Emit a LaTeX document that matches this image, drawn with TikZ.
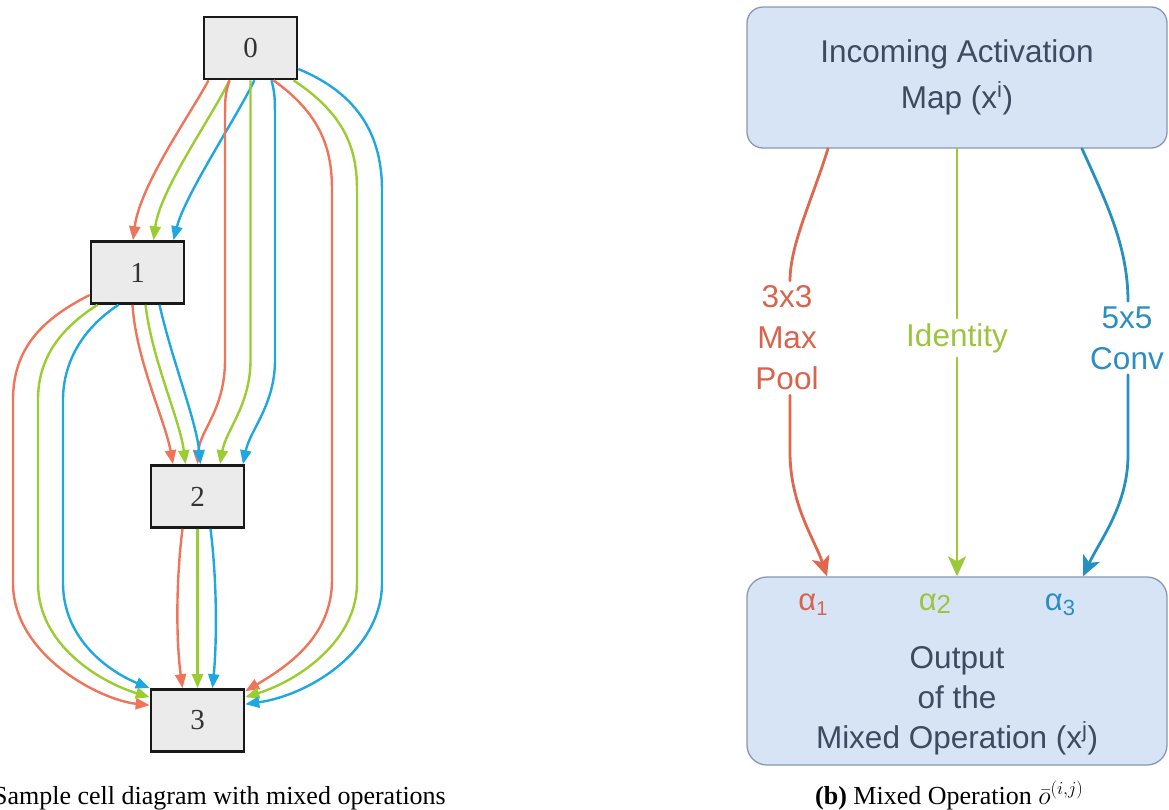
\RequirePackage{fix-cm}
\documentclass[tikz,border=0pt]{standalone}
\usepackage{fontspec}
\setmainfont{Liberation Serif}
\newfontfamily\diagsans{Liberation Sans}
\usetikzlibrary{arrows.meta}

\definecolor{cellgray}{HTML}{EBEBEB}
\definecolor{opred}{HTML}{F07459}
\definecolor{opgreen}{HTML}{9ACD32}
\definecolor{opblue}{HTML}{1FA7E0}
\definecolor{mixred}{HTML}{E0664D}
\definecolor{mixgreen}{HTML}{9CC93A}
\definecolor{mixblue}{HTML}{2690C0}
\definecolor{txtred}{HTML}{D8644B}
\definecolor{txtgreen}{HTML}{9CC43E}
\definecolor{txtblue}{HTML}{2B8EC3}
\definecolor{mapfill}{HTML}{D6E4F6}
\definecolor{mapedge}{HTML}{8799B0}
\definecolor{maptext}{HTML}{3D4A5F}

\begin{document}
\begin{tikzpicture}[x=1pt,y=-1pt,
  cellbox/.style={draw=black!90, line width=2.6pt, fill=cellgray,
    minimum width=93pt, minimum height=62pt, inner sep=0pt,
    font=\fontsize{29}{34}\selectfont, text=black!80},
  edgered/.style={draw=opred, line width=2.4pt, -{Triangle[length=14pt,width=11pt]}},
  edgegreen/.style={draw=opgreen, line width=2.4pt, -{Triangle[length=14pt,width=11pt]}},
  edgeblue/.style={draw=opblue, line width=2.4pt, -{Triangle[length=14pt,width=11pt]}},
  mapbox/.style={draw=mapedge, fill=mapfill, line width=1.3pt, minimum width=420pt,
    inner sep=0pt, text=maptext, align=center},
  sanslabel/.style={font=\diagsans\fontsize{31.5}{41}\selectfont, align=center, inner sep=5pt},
  mixline/.style={line width=2.8pt, line cap=round},
  mixtip/.style={-{Stealth[length=20pt,width=18pt,inset=5pt]}},
  caption/.style={font=\fontsize{26}{30}\selectfont, inner sep=0pt}
]
\useasboundingbox (0,0) rectangle (1169,809);
\clip (0,0) rectangle (1169,809);

% ---------- cell graph ----------
\node[cellbox] (n0) at (250.5,48) {0};
\node[cellbox] (n1) at (137.5,272.5) {1};
\node[cellbox] (n2) at (197.5,496.5) {2};
\node[cellbox] (n3) at (197.5,720.5) {3};

% node 0 -> node 1
\draw[edgered]   ([xshift=-42pt]n0.south) .. controls (190,115) and (140,185) .. ([xshift=-4.5pt]n1.north);
\draw[edgegreen] ([xshift=-21pt]n0.south) .. controls (210,120) and (160,190) .. ([xshift=16pt]n1.north);
\draw[edgeblue]  ([xshift=4pt]n0.south)   .. controls (235,120) and (185,195) .. ([xshift=36pt]n1.north);

% node 0 -> node 2
\draw[edgered]   ([xshift=-21pt]n0.south) .. controls (225,95) .. (225,130) -- (225,360)
                 .. controls (225,410) and (200,430) .. ([xshift=0pt]n2.north);
\draw[edgegreen] (n0.south) -- (250.5,360)
                 .. controls (250.5,405) and (226,430) .. ([xshift=22.5pt]n2.north);
\draw[edgeblue]  ([xshift=21pt]n0.south) .. controls (275,95) .. (275,130) -- (275,360)
                 .. controls (275,405) and (250,430) .. ([xshift=45.5pt]n2.north);

% node 0 -> node 3
\draw[edgered]   ([xshift=23pt]n0.south) .. controls (322,115) and (332,150) .. (332,190) -- (332,580)
                 .. controls (332,635) and (290,665) .. ([yshift=-3pt]n3.north east);
\draw[edgegreen] ([xshift=43pt]n0.south) .. controls (346,115) and (357,150) .. (357,190) -- (357,583)
                 .. controls (357,640) and (300,680) .. ([yshift=-9pt]n3.north east);
\draw[edgeblue]  ([yshift=-21pt]n0.east) .. controls (362,95) and (382,140) .. (382,190) -- (382,583)
                 .. controls (382,650) and (310,695) .. ([yshift=-16pt]n3.north east);

% node 1 -> node 3
\draw[edgered]   ([yshift=-22.5pt]n1.west) .. controls (40,320) and (13,350) .. (13,400) -- (13,583)
                 .. controls (13,655) and (100,700) .. ([yshift=-17pt]n3.north west);
\draw[edgegreen] ([xshift=-40pt]n1.south) .. controls (58,330) and (38,360) .. (38,400) -- (38,583)
                 .. controls (38,645) and (100,682) .. ([yshift=-9pt]n3.north west);
\draw[edgeblue]  ([xshift=-19pt]n1.south) .. controls (80,330) and (63,365) .. (63,400) -- (63,583)
                 .. controls (63,640) and (110,672) .. (n3.north west);

% node 1 -> node 2
\draw[edgered]   ([xshift=-5pt]n1.south) .. controls (136,360) and (165,420) .. ([xshift=-24.5pt]n2.north);
\draw[edgegreen] ([xshift=8pt]n1.south)  .. controls (152,360) and (180,420) .. ([xshift=-12pt]n2.north);
\draw[edgeblue]  ([xshift=22pt]n1.south) .. controls (172,360) and (196,420) .. ([xshift=3pt]n2.north);

% node 2 -> node 3
\draw[edgered]   ([xshift=-15pt]n2.south) .. controls (176,580) and (176,640) .. ([xshift=-15pt]n3.north);
\draw[edgegreen] (n2.south) -- (n3.north);
\draw[edgeblue]  ([xshift=13pt]n2.south) .. controls (217,580) and (217,640) .. ([xshift=15pt]n3.north);

\node[caption, anchor=base east] (capa) at (446,804) {\textbf{(a)} Sample cell diagram with mixed operations};

% ---------- mixed operation ----------
\node[mapbox, rounded corners=16pt, minimum height=141pt,
      font=\diagsans\fontsize{31.5}{46}\selectfont] (top) at (957,77.5)
      {Incoming Activation\\Map (x\textsuperscript{i})};
\node[mapbox, rounded corners=20pt, minimum height=188pt] (bot) at (957,671) {};

\node[sanslabel, text=txtred]   (lmax)  at (787,338) {3x3\\Max\\Pool};
\node[sanslabel, text=txtgreen] (lid)   at (957,338) {Identity};
\node[sanslabel, text=txtblue]  (lconv) at (1127,338) {5x5\\Conv};

% max pool branch
\draw[mixline, draw=mixred] ([xshift=-129pt]top.south) .. controls (812,200) and (790,245) .. ([xshift=3pt]lmax.north);
\draw[mixline, mixtip, draw=mixred] ([xshift=3pt]lmax.south) -- (790,452)
      .. controls (790,505) and (815,540) .. ([xshift=-130pt]bot.north);
% identity branch
\draw[mixline, draw=mixgreen] (top.south) -- (lid.north);
\draw[mixline, mixtip, draw=mixgreen] (lid.south) -- (bot.north);
% conv branch
\draw[mixline, draw=mixblue] ([xshift=125pt]top.south) .. controls (1105,200) and (1128,245) .. ([xshift=1pt]lconv.north);
\draw[mixline, mixtip, draw=mixblue] ([xshift=1pt]lconv.south) -- (1128,455)
      .. controls (1128,505) and (1100,540) .. ([xshift=126pt]bot.north);

% weights and output text
\node[font=\diagsans\fontsize{31}{34}\selectfont, text=txtred, anchor=base]   (a1) at (813,610)
  {α\raisebox{-5pt}{\fontsize{20}{20}\selectfont 1}};
\node[font=\diagsans\fontsize{31}{34}\selectfont, text=txtgreen, anchor=base] (a2) at (935,610)
  {α\raisebox{-3pt}{\fontsize{26}{26}\selectfont 2}};
\node[font=\diagsans\fontsize{31}{34}\selectfont, text=txtblue, anchor=base]  (a3) at (1060,610)
  {α\raisebox{-5pt}{\fontsize{22}{22}\selectfont 3}};
\node[font=\diagsans\fontsize{31.5}{40}\selectfont, text=maptext, align=center] (out) at (957,701)
  {Output\\of the\\Mixed Operation (x\textsuperscript{j})};

\node[caption, anchor=base west] (capb) at (815,804) {\textbf{(b)} Mixed Operation $\bar{o}^{(i,j)}$};
\end{tikzpicture}
\end{document}
